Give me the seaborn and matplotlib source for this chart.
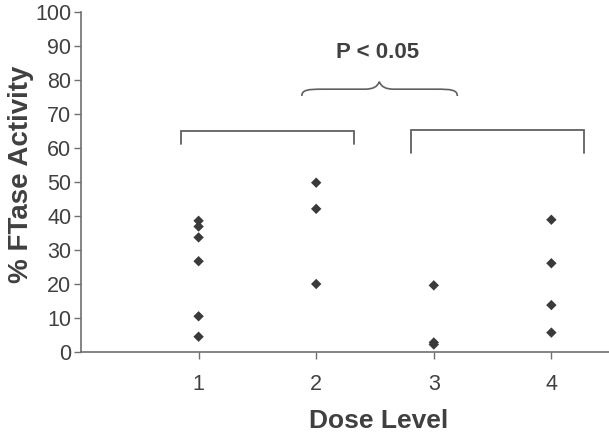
import matplotlib
matplotlib.use("Agg")
import matplotlib.pyplot as plt
import seaborn as sns
import pandas as pd
from matplotlib.path import Path
from matplotlib.patches import PathPatch

# Data
dose1 = [38.6, 36.9, 33.7, 26.7, 10.5, 4.5]
dose2 = [49.8, 42.1, 20.0]
dose3 = [19.6, 2.8, 2.2]
dose4 = [38.9, 26.1, 13.8, 5.7]
dose_levels = [1, 2, 3, 4]
y_ticks = list(range(0, 101, 10))

rows = []
for lvl, vals in zip(dose_levels, [dose1, dose2, dose3, dose4]):
    for v in vals:
        rows.append({"dose": lvl, "activity": v})
df = pd.DataFrame(rows)

sns.set_style("white")
plt.rcParams["font.family"] = ["Liberation Sans", "DejaVu Sans"]

fig = plt.figure(figsize=(6.09, 4.34), dpi=100)
ax = fig.add_axes([81 / 609, 82 / 434, 1 - 81 / 609, 340 / 434])

sns.scatterplot(data=df, x="dose", y="activity", marker="D", s=28,
                color="#3a3a3a", edgecolor="none", ax=ax, clip_on=False, zorder=3)

ax.set_xlim(0, 4.49)
ax.set_ylim(0, 100)
ax.set_xticks(dose_levels)
ax.set_yticks(y_ticks)
axcol = "#707070"
txtcol = "#404040"
ax.tick_params(axis="both", direction="out", length=5, width=1, color=axcol,
               labelsize=15.5, labelcolor=txtcol, left=True, bottom=True)
ax.tick_params(axis="x", pad=11)
ax.tick_params(axis="y", pad=2)
for side in ["top", "right"]:
    ax.spines[side].set_visible(False)
for side in ["left", "bottom"]:
    ax.spines[side].set_color(axcol)
    ax.spines[side].set_linewidth(1.2)

ax.set_xlabel("")
ax.set_ylabel("")
fig.text(379 / 609, 1 - 428 / 434, "Dose Level", ha="center", va="baseline",
         fontsize=19, fontweight="bold", color=txtcol)
fig.text(21 / 609, 1 - 174 / 434, "% FTase Activity", ha="center", va="center",
         rotation=90, fontsize=20, fontweight="bold", color=txtcol)

lc = "#606060"
# left bracket
ax.plot([0.847, 0.847, 2.322, 2.322], [61.3, 65.0, 65.0, 61.3], color=lc, lw=1.3,
        solid_joinstyle="miter", clip_on=False)
# right bracket
ax.plot([2.81, 2.81, 4.28, 4.28], [58.4, 65.2, 65.2, 58.4], color=lc, lw=1.3,
        solid_joinstyle="miter", clip_on=False)

# curly brace
x0, xm, x1 = 1.878, 2.537, 3.20
yb, yh, yp = 75.3, 77.3, 79.5
verts = [
    (x0, yb), (x0, yh - 0.2), (x0 + 0.05, yh), (x0 + 0.18, yh),
    (xm - 0.12, yh), (xm - 0.02, yh), (xm, yp),
    (xm + 0.02, yh), (xm + 0.12, yh),
    (x1 - 0.18, yh), (x1 - 0.05, yh), (x1, yh - 0.2), (x1, yb),
]
codes = [Path.MOVETO, Path.CURVE4, Path.CURVE4, Path.CURVE4,
         Path.LINETO, Path.CURVE3, Path.CURVE3,
         Path.CURVE3, Path.CURVE3,
         Path.LINETO, Path.CURVE4, Path.CURVE4, Path.CURVE4]
ax.add_patch(PathPatch(Path(verts, codes), facecolor="none", edgecolor=lc, lw=1.2,
                       clip_on=False))

ax.text(2.52, 88.0, "P < 0.05", ha="center", va="center", fontsize=16,
        fontweight="bold", color=txtcol)

fig.savefig("out.png", dpi=100)
